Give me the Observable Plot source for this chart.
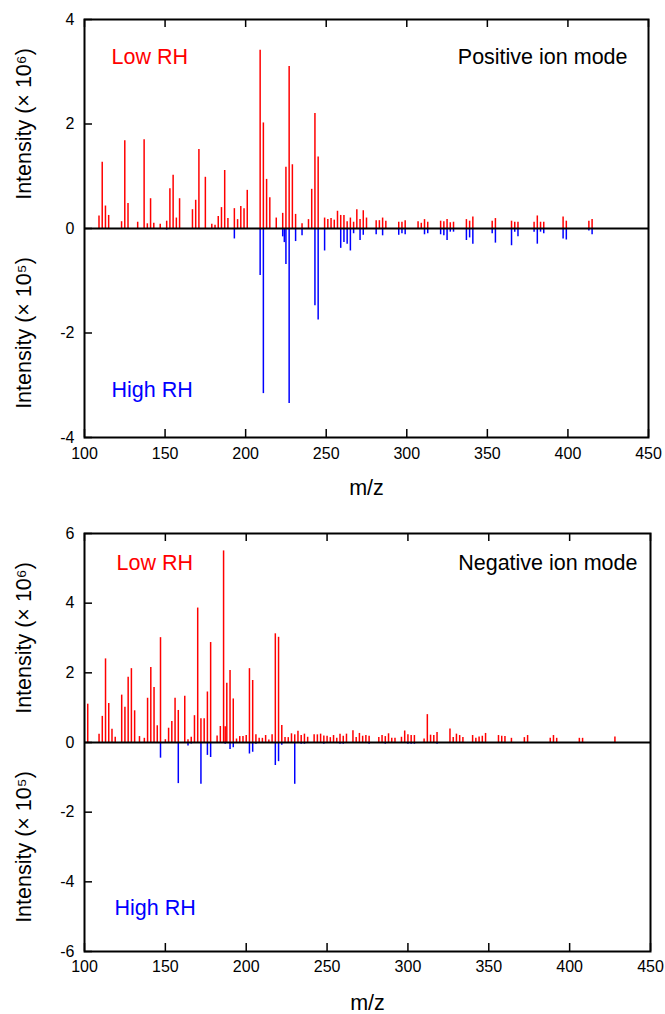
<!DOCTYPE html>
<html><head><meta charset="utf-8">
<script src="https://cdn.jsdelivr.net/npm/d3@7"></script>
<script src="https://cdn.jsdelivr.net/npm/@observablehq/plot@0.6"></script>
<style>
body{margin:0;background:#fff;}
#chart svg{display:block;}
</style></head><body><div id="chart"></div>
<script>
// ---------- Data ----------
// Positive ion mode, Low RH (×10^6)
const posLowMz  = [109,111,113,115,123,125,127,133,137,139,141,143,147,151,153,155,157,159,167,169,171,175,179,181,183,185,187,189,193,195,197,199,201,209,211,213,215,219,223,225,227,229,231,235,239,241,243,245,249,251,253,255,257,259,261,263,265,267,269,271,273,275,281,283,285,287,295,297,299,307,309,311,313,321,323,325,327,329,337,339,341,353,355,365,367,369,379,381,383,385,397,399,413,415];
const posLowVal = [0.24,1.27,0.43,0.25,0.13,1.68,0.48,0.12,1.70,0.09,0.57,0.10,0.08,0.14,0.76,1.02,0.20,0.57,0.36,0.54,1.51,0.98,0.08,0.06,0.23,0.40,1.11,0.19,0.38,0.17,0.42,0.38,0.73,3.41,2.02,0.94,0.59,0.20,0.29,1.17,3.10,1.22,0.27,0.09,0.17,0.75,2.20,1.37,0.20,0.17,0.19,0.16,0.33,0.25,0.25,0.13,0.20,0.12,0.36,0.17,0.34,0.20,0.15,0.15,0.20,0.14,0.12,0.12,0.15,0.13,0.10,0.17,0.12,0.14,0.13,0.17,0.11,0.12,0.17,0.14,0.22,0.14,0.19,0.14,0.12,0.12,0.12,0.24,0.12,0.12,0.22,0.14,0.14,0.17];
// Positive ion mode, High RH (×10^5)
const posHighMz  = [151,193,209,211,223,224,225,227,231,235,243,245,249,259,261,263,265,267,271,273,281,285,295,297,299,311,313,321,323,325,327,329,337,339,341,353,355,365,367,369,379,381,383,385,397,399,413,415];
const posHighVal = [-0.03,-0.20,-0.90,-3.16,-0.16,-0.27,-0.69,-3.35,-0.25,-0.14,-1.48,-1.75,-0.43,-0.38,-0.27,-0.30,-0.43,-0.10,-0.23,-0.13,-0.12,-0.14,-0.13,-0.10,-0.12,-0.12,-0.10,-0.12,-0.14,-0.23,-0.07,-0.07,-0.23,-0.18,-0.30,-0.10,-0.28,-0.33,-0.07,-0.16,-0.07,-0.30,-0.07,-0.10,-0.20,-0.22,-0.05,-0.12];
// Negative ion mode, Low RH (×10^6)
const negLowMz  = [102,109,111,113,115,117,119,123,125,127,129,131,134,137,139,141,143,145,147,150,152,154,156,158,162,164,166,168,170,172,174,176,178,182,184,186,187,188,190,192,194,196,198,200,202,204,206,208,210,212,214,216,218,220,222,224,226,228,230,232,234,236,238,242,244,246,248,250,252,254,256,258,260,262,266,268,270,272,274,276,282,284,286,288,290,292,296,298,300,302,304,310,312,314,316,318,326,328,330,332,334,340,342,344,346,348,356,358,360,364,372,374,388,390,392,406,408,428];
const negLowVal = [1.10,0.24,0.75,2.40,1.12,0.38,0.15,1.36,1.01,1.87,2.12,0.91,0.17,0.12,1.27,2.15,1.58,0.48,3.01,0.08,0.41,0.60,1.27,0.92,1.33,0.08,0.15,0.77,3.86,0.68,0.68,1.45,2.87,0.19,0.46,5.50,0.45,1.70,2.07,1.25,0.10,0.17,0.17,0.20,2.12,1.78,0.22,0.12,0.12,0.20,0.07,0.22,3.12,3.02,0.49,0.14,0.14,0.25,0.22,0.32,0.20,0.24,0.15,0.22,0.22,0.24,0.19,0.18,0.14,0.20,0.12,0.24,0.18,0.24,0.34,0.14,0.26,0.18,0.20,0.18,0.14,0.20,0.17,0.25,0.12,0.12,0.15,0.33,0.22,0.20,0.20,0.10,0.80,0.21,0.20,0.29,0.39,0.14,0.24,0.20,0.14,0.20,0.12,0.16,0.18,0.26,0.20,0.18,0.17,0.12,0.14,0.20,0.12,0.20,0.12,0.12,0.12,0.16];
// Negative ion mode, High RH (×10^5)
const negHighMz  = [147,158,164,166,172,176,178,187,190,192,202,204,206,218,220,222,230,234,236,248,258,260,276,286,300,302,304,318];
const negHighVal = [-0.45,-1.18,-0.10,-0.04,-1.20,-0.37,-0.43,-0.05,-0.20,-0.15,-0.33,-0.28,-0.05,-0.66,-0.55,-0.08,-1.20,-0.05,-0.05,-0.05,-0.05,-0.05,-0.05,-0.05,-0.05,-0.05,-0.05,-0.05];

const xTicks = [100,150,200,250,300,350,400,450];
const posYTicks = [-4,-2,0,2,4];
const negYTicks = [-6,-4,-2,0,2,4,6];
const yLabelUpper = "Intensity (× 10⁶)";
const yLabelLower = "Intensity (× 10⁵)";
const xLabel = "m/z";

// ---------- Drawing ----------
const FONT = "'Liberation Sans', Arial, Helvetica, sans-serif";
const RED = "#ff0000", BLUE = "#0000ff";

function panel(o) {
  const low = o.lowMz.map((m, i) => ({mz: m, v: o.lowVal[i]}));
  const high = o.highMz.map((m, i) => ({mz: m, v: o.highVal[i]}));
  const W = 665;
  const plotW = W - o.marginLeft - o.marginRight;
  const plotH = o.height - o.marginTop - o.marginBottom;
  const yMax = d3.max(o.yTicks);
  return Plot.plot({
    width: W, height: o.height,
    marginLeft: o.marginLeft, marginRight: o.marginRight,
    marginTop: o.marginTop, marginBottom: o.marginBottom,
    style: {fontFamily: FONT, fontSize: "16px", color: "#000", background: "#fff"},
    x: {domain: [100, 450], label: null},
    y: {domain: [-yMax, yMax], label: null},
    marks: [
      Plot.ruleX(low, {x: "mz", y1: 0, y2: "v", stroke: RED, strokeWidth: 1.5}),
      Plot.ruleX(high, {x: "mz", y1: 0, y2: "v", stroke: BLUE, strokeWidth: 1.5}),
      Plot.ruleY([0], {stroke: "#000", strokeWidth: 2}),
      Plot.tickX(xTicks, {x: d => d, insetTop: plotH - 8, stroke: "#000", strokeWidth: 1.5}),
      Plot.tickX(xTicks, {x: d => d, insetBottom: plotH - 8, stroke: "#000", strokeWidth: 1.5}),
      Plot.tickY(o.yTicks, {y: d => d, insetRight: plotW - 8, stroke: "#000", strokeWidth: 1.5}),
      Plot.frame({stroke: "#000", strokeWidth: 2}),
      Plot.axisX(xTicks, {tickSize: 0, tickPadding: o.xPad, tickFormat: d => String(d), fontSize: 16}),
      Plot.axisY(o.yTicks, {tickSize: 0, tickPadding: 10, tickFormat: d => String(d), fontSize: 16}),
      Plot.text([xLabel], {text: d => d, frameAnchor: "bottom", dy: o.xLabelDy, fontSize: 21.5, textAnchor: "middle", lineAnchor: "middle"}),
      Plot.text([yLabelUpper], {text: d => d, y: () => yMax / 2, frameAnchor: "left", dx: -60, rotate: -90, fontSize: 21.5, textAnchor: "middle", lineAnchor: "middle"}),
      Plot.text([yLabelLower], {text: d => d, y: () => -yMax / 2, frameAnchor: "left", dx: -60, rotate: -90, fontSize: 21.5, textAnchor: "middle", lineAnchor: "middle"}),
      Plot.text(["Low RH"], {text: d => d, frameAnchor: "top-left", dx: o.lowDx, dy: o.topDy, textAnchor: "start", lineAnchor: "middle", fill: RED, fontSize: 21.5}),
      Plot.text([o.mode], {text: d => d, frameAnchor: "top-right", dx: o.modeDx, dy: o.topDy, textAnchor: "end", lineAnchor: "middle", fill: "#000", fontSize: 21.5}),
      Plot.text(["High RH"], {text: d => d, frameAnchor: "bottom-left", dx: o.highDx, dy: o.highDy, textAnchor: "start", lineAnchor: "middle", fill: BLUE, fontSize: 21.5})
    ]
  });
}

const chart = document.getElementById("chart");
chart.append(panel({
  lowMz: posLowMz, lowVal: posLowVal, highMz: posHighMz, highVal: posHighVal,
  yTicks: posYTicks, mode: "Positive ion mode",
  height: 510, marginTop: 19, marginBottom: 73, marginLeft: 84, marginRight: 17,
  xPad: 10, xLabelDy: 51, topDy: 38, lowDx: 27, modeDx: -21, highDx: 27, highDy: -47
}));
chart.append(panel({
  lowMz: negLowMz, lowVal: negLowVal, highMz: negHighMz, highVal: negHighVal,
  yTicks: negYTicks, mode: "Negative ion mode",
  height: 504, marginTop: 23, marginBottom: 63, marginLeft: 84, marginRight: 15,
  xPad: 9, xLabelDy: 52, topDy: 30, lowDx: 32, modeDx: -13, highDx: 30, highDy: -43
}));
</script>
</body></html>
